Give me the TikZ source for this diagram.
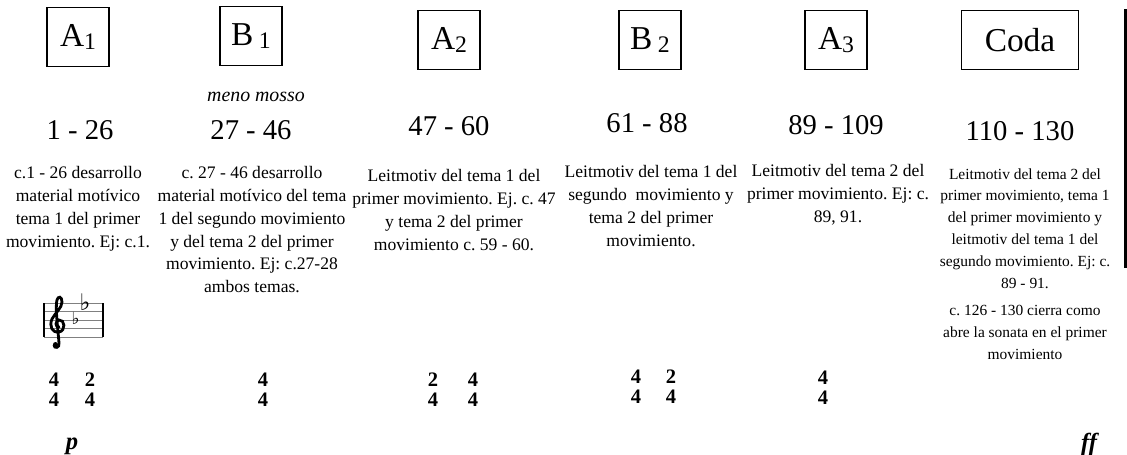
\documentclass[tikz,border=0pt]{standalone}
\usepackage{fontspec}
\setmainfont{Liberation Serif}
\newfontfamily\symfont{DejaVu Sans}
\usetikzlibrary{positioning}
\frenchspacing

\newcommand{\subnum}[1]{\raisebox{-1.7pt}{\fontsize{13.5}{13.5}\selectfont #1}}

\tikzset{
  secbox/.style={draw, line width=0.9pt, minimum width=1.24cm,
                 minimum height=1.18cm, inner sep=0pt,
                 font=\fontsize{19}{19}\selectfont},
  barnum/.style={inner sep=0pt, font=\fontsize{16.3}{16.3}\selectfont},
  desc/.style={align=center, inner sep=0pt, anchor=north,
               font=\fontsize{10}{13}\selectfont},
  descsm/.style={desc, font=\fontsize{8.8}{12.4}\selectfont},
  timesig/.style={align=center, inner sep=0pt,
                  font=\fontsize{11.7}{11.3}\selectfont\bfseries},
  dyn/.style={inner sep=0pt, font=\fontsize{14}{14}\selectfont\bfseries\itshape},
  flatsign/.style={inner sep=0pt, font=\symfont},
}

\begin{document}
\begin{tikzpicture}[x=0.02cm, y=-0.02cm]
  \useasboundingbox (0,0) rectangle (1127,454);

  % sections
  \node[secbox] (a1) at (78,37) {A\subnum{1}};
  \node[secbox] (b1) at (251,36) {B\,\subnum{1}};
  \node[secbox] (a2) at (449,40) {A\subnum{2}};
  \node[secbox] (b2) at (650,40) {B\,\subnum{2}};
  \node[secbox] (a3) at (836,40) {A\subnum{3}};
  \node[secbox, minimum width=2.34cm] (coda) at (1020,40) {Coda};

  \draw[line width=1.7pt] (1125.5,9) -- (1125.5,268);

  % bar numbers
  \node[inner sep=0pt, font=\fontsize{11.3}{11.3}\selectfont\itshape]
    (tempo) at (256,97) {meno mosso};
  \node[barnum] (m1) at (80,130) {1 - 26};
  \node[barnum] (m2) at (251,130) {27 - 46};
  \node[barnum] (m3) at (449,126) {47 - 60};
  \node[barnum] (m4) at (647,123) {61 - 88};
  \node[barnum] (m5) at (836,125) {89 - 109};
  \node[barnum] (m6) at (1020,131) {110 - 130};

  % descriptions
  \node[desc] (d1) at (78,166) {c.1 - 26 desarrollo\\ material motívico\\
    tema 1 del primer\\ movimiento. Ej: c.1.};
  \node[desc] (d2) at (252,166) {c. 27 - 46 desarrollo\\
    material motívico del tema\\ 1 del segundo movimiento\\
    y del tema 2 del primer\\ movimiento. Ej: c.27-28\\ ambos temas.};
  \node[desc] (d3) at (454,169) {Leitmotiv del tema 1 del\\
    primer movimiento. Ej. c. 47\\ y tema 2 del primer\\
    movimiento c. 59 - 60.};
  \node[desc] (d4) at (651,165) {Leitmotiv del tema 1 del\\
    segundo\ \ movimiento y\\ tema 2 del primer\\ movimiento.};
  \node[desc] (d5) at (838,164) {Leitmotiv del tema 2 del\\
    primer movimiento. Ej: c.\\ 89, 91.};
  \node[descsm] (d6) at (1025,168) {Leitmotiv del tema 2 del\\
    primer movimiento, tema 1\\ del primer movimiento y\\
    leitmotiv del tema 1 del\\ segundo movimiento. Ej: c.\\ 89 - 91.};
  \node[descsm] (d7) at (1025,305) {c. 126 - 130 cierra como\\
    abre la sonata en el primer\\ movimiento};

  % key signature
  \foreach \ly in {303,311.5,320,328.5,337}
    \draw[gray, line width=0.5pt] (44,\ly) -- (103,\ly);
  \draw[line width=0.9pt] (44,303) -- (44,337) (103,303) -- (103,337);
  \draw[line width=1.6pt, line cap=round]
    (59,327) .. controls (55,327) and (55,321) .. (59,320)
    .. controls (65,319) and (66,331) .. (59,332)
    .. controls (52,333) and (49,326) .. (52,319)
    .. controls (55,313) and (62,308) .. (62,302)
    .. controls (62,296) and (58,296) .. (57,300)
    .. controls (55,306) and (58,330) .. (59,343)
    .. controls (60,348) and (54,349) .. (54,345);
  \fill (55.5,344.5) circle (2.5);
  \node[flatsign, font=\symfont\fontsize{9.5}{9.5}\selectfont] (fl1) at (75.5,318) {♭};
  \node[flatsign, font=\symfont\fontsize{13}{13}\selectfont] (fl2) at (85,302.5) {♭};

  % time signatures
  \node[timesig] (ts1a) at (54,390) {4\\4};
  \node[timesig] (ts1b) at (90,390) {2\\4};
  \node[timesig] (ts2) at (263,390) {4\\4};
  \node[timesig] (ts3a) at (433,390) {2\\4};
  \node[timesig] (ts3b) at (473,390) {4\\4};
  \node[timesig] (ts4a) at (636,387) {4\\4};
  \node[timesig] (ts4b) at (671,387) {2\\4};
  \node[timesig] (ts5) at (823,388) {4\\4};

  % dynamics
  \node[dyn] (pdyn) at (72,446) {p};
  \node[dyn] (ffdyn) at (1089,444) {ff};
\end{tikzpicture}
\end{document}
